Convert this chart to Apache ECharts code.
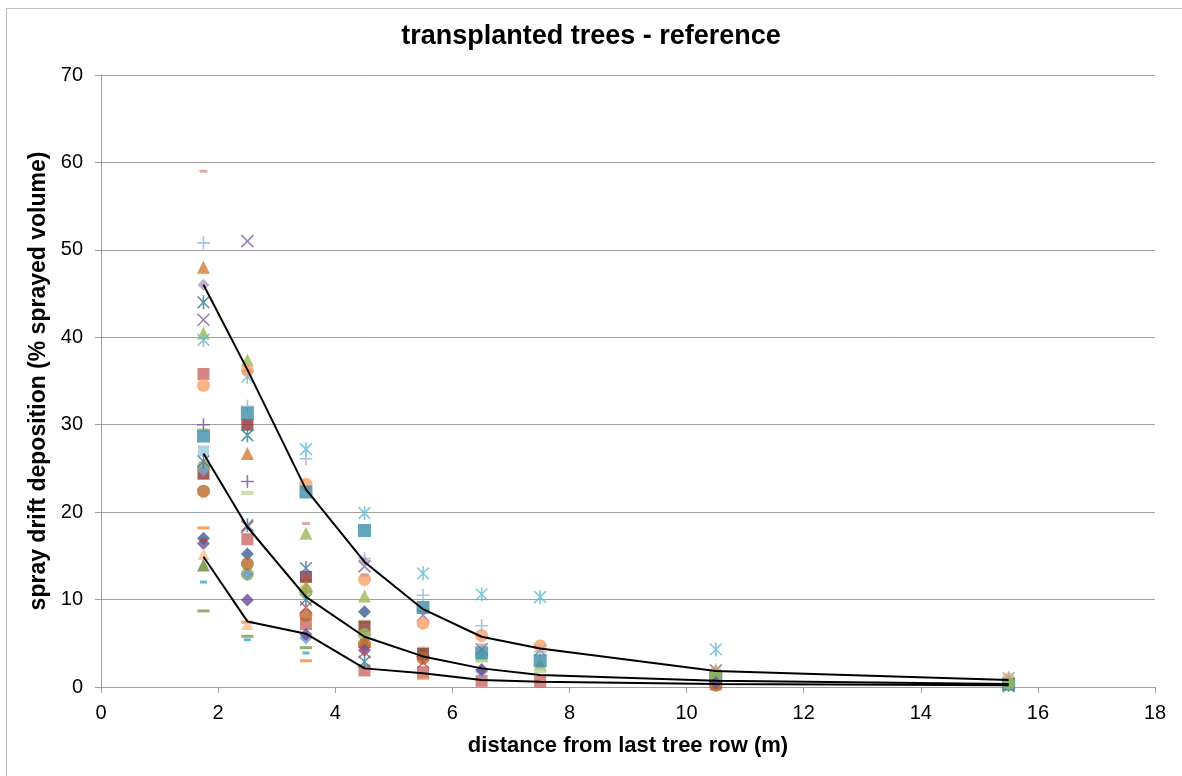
<!DOCTYPE html>
<html>
<head>
<meta charset="utf-8">
<script src="https://cdn.jsdelivr.net/npm/echarts@6/dist/echarts.min.js"></script>
<style>
  html, body { margin: 0; padding: 0; background: #fff; }
  #chart { width: 1182px; height: 776px; }
</style>
</head>
<body>
<div id="chart"></div>
<script>
// Sampling distances downwind of the last tree row (m)
const distances = [1.75, 2.5, 3.5, 4.5, 5.5, 6.5, 7.5, 10.5, 15.5];

// Drift deposition per trial (% of sprayed volume), null = no sample
const trialA  = [17.0, 15.2, null, 8.6, null, null, null, 0.5, null];
const trialB  = [35.8, 16.9, 7.2, 1.9, 1.7, 0.7, 0.6, 0.3, null];
const trialC  = [40.5, 37.4, 17.6, 10.4, 4.0, 3.6, 2.6, 2.0, 0.4];
const trialD  = [42.0, 51.0, null, 13.8, 8.2, 4.3, 4.2, 1.9, 0.1];
const trialE  = [39.7, 35.5, 27.2, 19.9, 13.0, 10.6, 10.3, 4.3, 1.0];
const trialF  = [34.5, 36.2, 23.2, 12.3, 7.3, 5.9, 4.7, 1.6, 0.9];
const trialG  = [50.8, 32.1, 26.1, 14.7, 10.5, 7.0, 4.0, 1.5, 0.6];
const trialH  = [59.0, 36.2, 18.7, 12.8, 8.6, 4.8, 2.5, 0.8, 0.8];
const trialI  = [29.4, 22.2, 12.2, 7.5, 4.4, 3.0, 1.8, 1.0, 0.5];
const trialJ  = [24.4, 30.0, 12.6, 6.9, 3.8, null, null, 0.6, null];
const trialK  = [48.0, 26.7, 11.5, 5.2, null, null, null, 0.9, null];
const trialL  = [46.0, null, null, 14.3, null, null, null, null, null];
const trialM  = [44.0, 28.8, 10.0, 2.9, null, null, null, null, null];
const trialN  = [30.0, 23.5, 10.9, 6.0, 3.5, null, null, 0.7, 0.2];
const trialO  = [28.7, 31.3, 22.3, 17.9, 9.1, 3.9, 3.0, 1.2, 0.3];
const trialP  = [27.0, null, null, null, null, null, null, null, null];
const trialQ  = [25.2, 12.9, 11.0, 6.0, null, null, null, 1.3, 0.4];
const trialR  = [24.8, 12.9, 5.6, null, null, 1.8, null, 0.4, null];
const trialS  = [22.4, 14.1, 8.2, 4.9, 3.3, null, null, 0.2, null];
const trialT  = [18.2, 7.4, 3.0, null, 1.0, null, null, 0.2, null];
const trialU  = [16.4, 9.95, 6.0, 4.2, null, 2.0, null, 0.5, null];
const trialV  = [15.2, 7.2, null, null, null, null, null, null, null];
const trialW  = [13.95, null, null, null, null, null, null, null, null];
const trialX  = [12.0, 5.4, 3.9, null, null, null, null, null, null];
const trialY  = [8.7, 5.8, 4.5, null, null, null, null, null, null];
const trialZ  = [null, 18.3, 9.1, 4.0, 2.8, null, null, null, null];
const trialAA = [25.8, 18.5, 13.6, null, null, null, null, null, null];
const trialAB = [16.8, null, null, null, null, null, null, null, null];

// Percentile curves across all trials
const pct90 = [46.0, 36.3, 22.6, 14.3, 8.9, 5.75, 4.4, 1.83, 0.8];
const pct50 = [26.7, 18.3, 10.3, 5.75, 3.5, 2.13, 1.37, 0.72, 0.34];
const pct10 = [14.9, 7.5, 6.1, 2.13, 1.56, 0.8, 0.6, 0.34, 0.19];

// Marker shapes (stroke-only glyphs are drawn as open paths)
const X_MARK = 'path://M0,0L10,10M10,0L0,10';
const PLUS_MARK = 'path://M5,0L5,10M0,5L10,5';
const STAR_MARK = 'path://M0.8,0.8L9.2,9.2M9.2,0.8L0.8,9.2M5,0L5,10';

const trialStyles = [
  { data: trialA,  symbol: 'diamond',  size: 13, color: '#3c5f93' },
  { data: trialB,  symbol: 'rect',     size: 12, color: '#cb6966' },
  { data: trialC,  symbol: 'triangle', size: 13, color: '#9bbb59' },
  { data: trialD,  symbol: X_MARK,     size: 12, color: '#8064a2', stroke: true },
  { data: trialE,  symbol: STAR_MARK,  size: 14, color: '#62bad3', stroke: true },
  { data: trialF,  symbol: 'circle',   size: 13, color: '#f7a066' },
  { data: trialG,  symbol: PLUS_MARK,  size: 13, color: '#95b3d7', stroke: true },
  { data: trialH,  symbol: 'rect',     size: [8, 3], color: '#d99694' },
  { data: trialI,  symbol: 'rect',     size: [12, 4], color: '#c3d69b' },
  { data: trialJ,  symbol: 'rect',     size: 12, color: '#8f3432' },
  { data: trialK,  symbol: 'triangle', size: 13, color: '#d77b30' },
  { data: trialL,  symbol: 'diamond',  size: 12, color: '#ab9bc3' },
  { data: trialM,  symbol: STAR_MARK,  size: 14, color: '#2f7c96', stroke: true },
  { data: trialN,  symbol: PLUS_MARK,  size: 13, color: '#7b52a3', stroke: true },
  { data: trialO,  symbol: 'rect',     size: 13, color: '#3d8fab' },
  { data: trialP,  symbol: 'rect',     size: 11, color: '#9cc8dd' },
  { data: trialQ,  symbol: 'circle',   size: 13, color: '#98b954' },
  { data: trialR,  symbol: 'diamond',  size: 13, color: '#7399cb' },
  { data: trialS,  symbol: 'circle',   size: 13, color: '#b9692b' },
  { data: trialT,  symbol: 'rect',     size: [12, 3], color: '#f58a38' },
  { data: trialU,  symbol: 'diamond',  size: 13, color: '#6c4e96' },
  { data: trialV,  symbol: 'triangle', size: 12, color: '#fbbf95' },
  { data: trialW,  symbol: 'triangle', size: 13, color: '#6e8a3a' },
  { data: trialX,  symbol: 'rect',     size: [7, 3], color: '#3fa9c8' },
  { data: trialY,  symbol: 'rect',     size: [12, 3], color: '#7a9a3e' },
  { data: trialZ,  symbol: X_MARK,     size: 12, color: '#c0504d', stroke: true },
  { data: trialAA, symbol: STAR_MARK,  size: 14, color: '#4a6fa5', stroke: true },
  { data: trialAB, symbol: 'rect',     size: [7, 3], color: '#b54744' }
];

function pairs(values) {
  const out = [];
  values.forEach((v, i) => { if (v !== null) out.push([distances[i], v]); });
  return out;
}

const scatterSeries = trialStyles.map((t, i) => ({
  type: 'scatter',
  name: 'trial ' + (i + 1),
  data: pairs(t.data),
  symbol: t.symbol,
  symbolSize: t.size,
  symbolKeepAspect: true,
  itemStyle: t.stroke
    ? { color: t.color, borderColor: t.color, borderWidth: 1.6 }
    : { color: t.color },
  z: 2
}));

const curveSeries = [pct90, pct50, pct10].map((vals, i) => ({
  type: 'line',
  name: ['P90', 'P50', 'P10'][i],
  data: pairs(vals),
  showSymbol: false,
  symbol: 'none',
  lineStyle: { color: '#000', width: 2 },
  z: 5
}));

const FONT = 'Liberation Sans, Arial, sans-serif';
const gray = '#a0a0a0';
const chart = echarts.init(document.getElementById('chart'), null, { renderer: 'canvas' });
chart.setOption({
  animation: false,
  backgroundColor: '#fff',
  title: {
    text: 'transplanted trees - reference',
    left: 'center',
    top: 23,
    padding: 0,
    textStyle: { fontFamily: FONT, fontSize: 27, fontWeight: 'bold', color: '#000' }
  },
  graphic: [{
    type: 'rect',
    shape: { x: 6.5, y: 8.5, width: 1300, height: 900 },
    style: { fill: 'none', stroke: '#bcbcbc', lineWidth: 1 },
    silent: true,
    z: -1
  }],
  grid: { left: 101, right: 27, top: 75, bottom: 89, containLabel: false },
  xAxis: {
    type: 'value',
    min: 0, max: 18, interval: 2,
    name: 'distance from last tree row (m)',
    nameLocation: 'middle',
    nameGap: 48,
    nameTextStyle: { fontFamily: FONT, fontSize: 22, fontWeight: 'bold', color: '#000' },
    axisLine: { show: true, onZero: false, lineStyle: { color: gray, width: 1 } },
    axisTick: { show: true, inside: false, length: 6, lineStyle: { color: gray } },
    axisLabel: { margin: 16, fontFamily: FONT, fontSize: 20, color: '#000' },
    splitLine: { show: false }
  },
  yAxis: {
    type: 'value',
    min: 0, max: 70, interval: 10,
    name: 'spray drift deposition (% sprayed volume)',
    nameLocation: 'middle',
    nameGap: 45,
    nameRotate: 90,
    nameTextStyle: { fontFamily: FONT, fontSize: 23, fontWeight: 'bold', color: '#000' },
    axisLine: { show: true, lineStyle: { color: gray, width: 1 } },
    axisTick: { show: true, inside: false, length: 6, lineStyle: { color: gray } },
    axisLabel: { margin: 18, fontFamily: FONT, fontSize: 20, color: '#000' },
    splitLine: { show: true, lineStyle: { color: gray, width: 1 } }
  },
  series: scatterSeries.concat(curveSeries)
});
</script>
</body>
</html>
